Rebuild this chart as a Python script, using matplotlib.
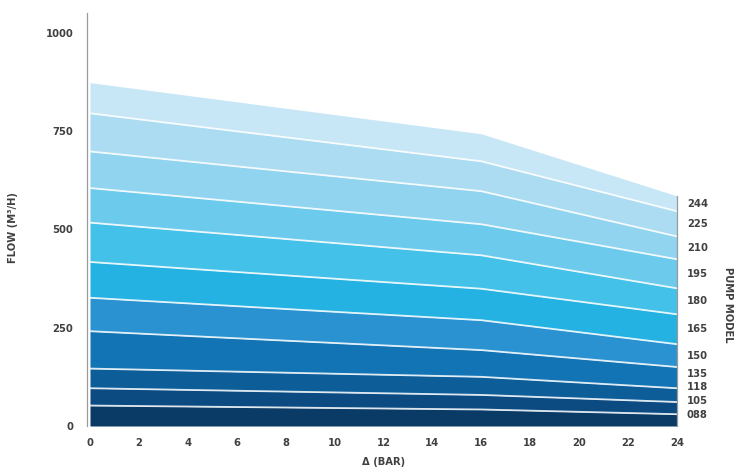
import matplotlib
matplotlib.use("Agg")
import matplotlib.pyplot as plt
import numpy as np

plt.rcParams['font.weight'] = 'bold'

# ---- data ----
pressure_bar = [0, 16, 24]
models = ["088", "105", "118", "135", "150", "165", "180", "195", "210", "225", "244"]
flow_088 = [52, 42, 30]
flow_105 = [96, 79, 61]
flow_118 = [146, 125, 96]
flow_135 = [241, 193, 150]
flow_150 = [326, 269, 208]
flow_165 = [417, 349, 284]
flow_180 = [517, 434, 350]
flow_195 = [605, 513, 424]
flow_210 = [698, 597, 482]
flow_225 = [795, 673, 546]
flow_244 = [873, 743, 585]
x_ticks = [0, 2, 4, 6, 8, 10, 12, 14, 16, 18, 20, 22, 24]
y_ticks = [0, 250, 500, 750, 1000]

flows = [flow_088, flow_105, flow_118, flow_135, flow_150, flow_165,
         flow_180, flow_195, flow_210, flow_225, flow_244]
colors = ['#0a3a66', '#0b4b82', '#0d5d99', '#1274b4', '#2b92d1', '#24b2e2',
          '#44c1e8', '#6ccbec', '#90d4ef', '#abdcf2', '#c8e7f6']

TXT = dict(fontsize=7.2, color='#404040', fontweight='bold')

fig = plt.figure(figsize=(7.41, 4.72), dpi=100)
ax = fig.add_axes([90 / 741, 46 / 472, 587 / 741, 413 / 472])

x = np.array(pressure_bar)
prev = np.zeros(len(x))
for f, c in zip(flows, colors):
    f = np.array(f)
    ax.fill_between(x, prev, f, color=c, linewidth=0, zorder=1)
    prev = f
for f in flows[:-1]:
    ax.plot(x, f, color='white', lw=1.3, alpha=0.85, zorder=2,
            solid_capstyle='butt')

ax.set_xlim(0, 24)
ax.set_ylim(0, 1050)
ax.set_xticks(x_ticks)
ax.set_yticks(y_ticks)
ax.tick_params(length=0, labelsize=7.2, labelcolor='#404040')
ax.tick_params(axis='x', pad=9)
ax.tick_params(axis='y', pad=10)
for s in ['top', 'right', 'bottom']:
    ax.spines[s].set_visible(False)
ax.spines['left'].set_color('#9a9a9a')
ax.spines['left'].set_linewidth(0.9)
ax.spines['left'].set_position(('outward', 2))

# right boundary line
ax.plot([24, 24], [0, flow_244[-1]], color='#9a9a9a', lw=0.9, zorder=3,
        clip_on=False)

# model labels on right, at band midpoints with minimum spacing
tops = [f[-1] for f in flows]
bottoms = [0] + tops[:-1]
mids = [(a + b) / 2 for a, b in zip(bottoms, tops)]
min_gap = 35
label_y = []
cur = None
for m in mids:
    cur = max(m, 28) if cur is None else max(m, cur + min_gap)
    label_y.append(cur)
for name, yv in zip(models, label_y):
    ax.text(24.4, yv, name, va='center', ha='left', clip_on=False, **TXT)

ax.set_xlabel("Δ (BAR)", labelpad=6, **TXT)
ax.set_ylabel("FLOW (M³/H)", **TXT)
ax.yaxis.set_label_coords(-0.123, 0.48)
fig.text(728 / 741, 1 - 305 / 472, "PUMP MODEL", rotation=-90,
         ha='center', va='center', **TXT)

fig.savefig("out.png", dpi=100)
